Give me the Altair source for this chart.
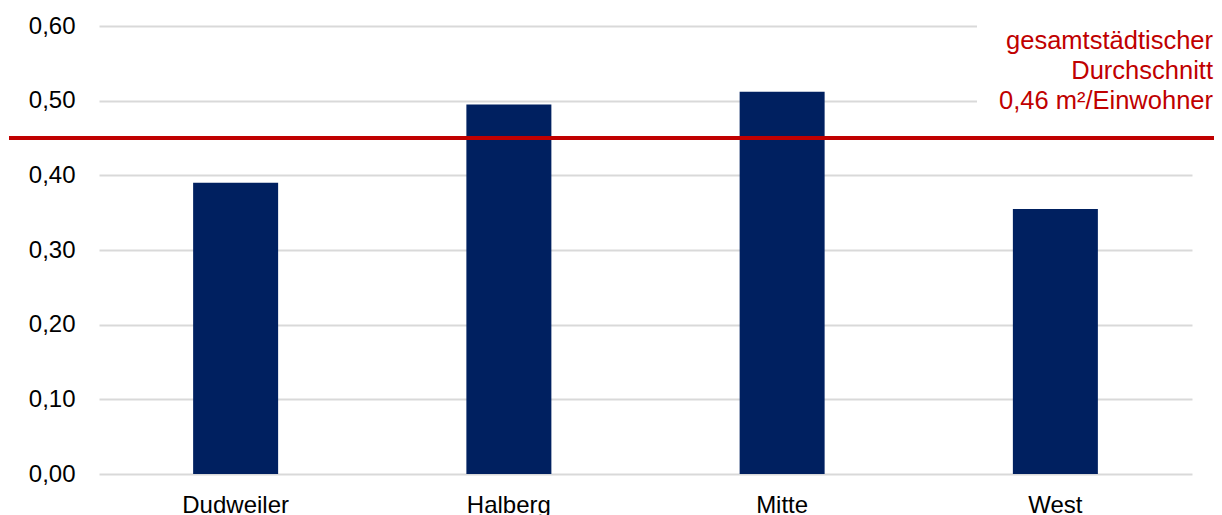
import altair as alt
import pandas as pd

categories = ["Dudweiler", "Halberg", "Mitte", "West"]
values = [0.390, 0.495, 0.512, 0.355]
average_value = 0.45
average_label = ["gesamtstädtischer", "Durchschnitt", "0,46 m²/Einwohner"]
y_ticks = [0.0, 0.1, 0.2, 0.3, 0.4, 0.5, 0.6]

FONT = "Liberation Sans"
W, H = 1093, 448

df = pd.DataFrame({"Bezirk": categories, "Wert": values})

x_enc = alt.X(
    "Bezirk:N",
    sort=categories,
    scale=alt.Scale(paddingInner=0, paddingOuter=0),
    axis=alt.Axis(
        title=None, labelAngle=0, domain=False, ticks=False, tickSize=0,
        labelPadding=19, labelFontSize=24, labelFont=FONT, labelColor="#000000",
    ),
)
y_enc = alt.Y(
    "Wert:Q",
    scale=alt.Scale(domain=[0, 0.6], nice=False),
    axis=alt.Axis(
        title=None, values=y_ticks, domain=False, ticks=False, tickSize=0,
        labelPadding=24, labelFontSize=24, labelFont=FONT, labelColor="#000000",
        labelExpr="replace(format(datum.value, '.2f'), '.', ',')",
        grid=True, gridColor="#D9D9D9", gridWidth=2,
    ),
)

box = alt.Chart(pd.DataFrame({"k": [0]})).mark_rect(color="white").encode(
    x=alt.value(878), x2=alt.value(W + 40), y=alt.value(-8), y2=alt.value(122)
)

bars = alt.Chart(df).mark_bar(size=85, color="#002060").encode(x=x_enc, y=y_enc)

rule = alt.Chart(pd.DataFrame({"v": [average_value]})).mark_rule(
    color="#C00000", strokeWidth=4
).encode(y=alt.Y("v:Q"), x=alt.value(-90), x2=alt.value(W + 30))

label = alt.Chart(pd.DataFrame({"t": [average_label]})).mark_text(
    align="right", baseline="alphabetic", fontSize=25.5, font=FONT,
    color="#C00000", lineHeight=30,
).encode(text="t", x=alt.value(1114), y=alt.value(23))

chart = alt.layer(box, bars, rule, label).properties(
    width=W, height=H,
    autosize=alt.AutoSizeParams(type="none"),
    padding={"left": 91, "top": 18, "right": 22, "bottom": 41},
).configure_view(stroke=None)

chart.save("out.html", embed_options={"renderer": "svg", "actions": False})
